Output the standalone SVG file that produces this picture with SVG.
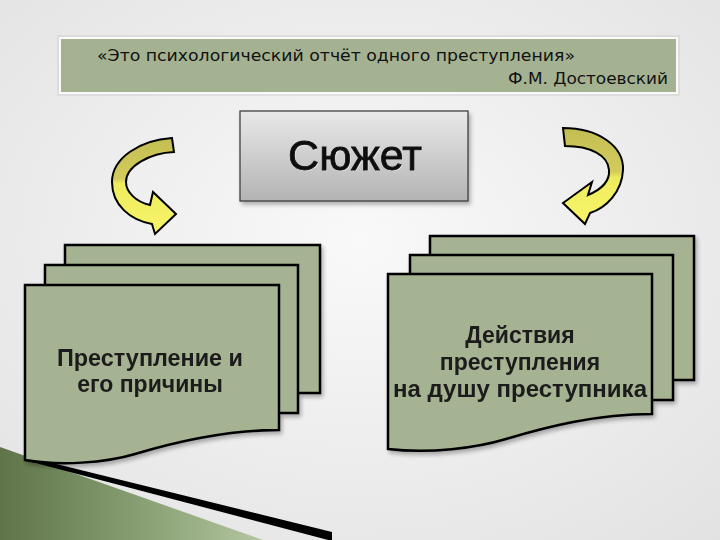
<svg xmlns="http://www.w3.org/2000/svg" width="720" height="540" viewBox="0 0 720 540">
  <defs>
    <radialGradient id="bg" cx="0.5" cy="0.45" r="0.75">
      <stop offset="0" stop-color="#f9f9f9"/>
      <stop offset="1" stop-color="#e2e2e2"/>
    </radialGradient>
    <linearGradient id="plot" x1="0" y1="0" x2="0" y2="1">
      <stop offset="0" stop-color="#e9e9e9"/>
      <stop offset="1" stop-color="#b3b3b3"/>
    </linearGradient>
    <linearGradient id="arrL" gradientUnits="userSpaceOnUse" x1="0" y1="138" x2="0" y2="234">
      <stop offset="0" stop-color="#c4bd52"/>
      <stop offset="0.42" stop-color="#d2cb5c"/>
      <stop offset="0.48" stop-color="#eeec5e"/>
      <stop offset="1" stop-color="#f7f46a"/>
    </linearGradient>
    <linearGradient id="arrR" gradientUnits="userSpaceOnUse" x1="0" y1="128" x2="0" y2="224">
      <stop offset="0" stop-color="#c4bd52"/>
      <stop offset="0.45" stop-color="#d2cb5c"/>
      <stop offset="0.52" stop-color="#eeec5e"/>
      <stop offset="1" stop-color="#f7f46a"/>
    </linearGradient>
    <linearGradient id="wedge" x1="0" y1="0" x2="1" y2="0">
      <stop offset="0" stop-color="#5f7449"/>
      <stop offset="0.6" stop-color="#8da478"/>
      <stop offset="1" stop-color="#b4c6a2"/>
    </linearGradient>
    <filter id="sh" x="-10%" y="-10%" width="130%" height="130%">
      <feGaussianBlur in="SourceAlpha" stdDeviation="2"/>
      <feOffset dx="2" dy="3"/>
      <feComponentTransfer><feFuncA type="linear" slope="0.3"/></feComponentTransfer>
      <feMerge><feMergeNode/><feMergeNode in="SourceGraphic"/></feMerge>
    </filter>
  </defs>
  <style>
    .doc { fill: #a5b392; stroke: #000; stroke-width: 2.5; stroke-linejoin: miter; }
    .arrow { stroke: #000; stroke-width: 2; stroke-linejoin: miter; }
    .dtxt { font-family: "Liberation Sans", Arial, sans-serif; font-weight: bold; font-size: 23px; fill: #1a1a1a; text-anchor: middle; }
    .qtxt { font-family: "DejaVu Sans Condensed", "DejaVu Sans", sans-serif; font-stretch: condensed; font-size: 16px; fill: #111; }
  </style>

  <rect x="0" y="0" width="720" height="540" fill="url(#bg)"/>

  <!-- bottom-left decoration -->
  <polygon points="0,447 263,540 0,540" fill="url(#wedge)"/>
  <polygon points="28,457 332,532 332,541 28,461" fill="#000"/>

  <g id="quote">
    <rect x="58" y="36" width="621" height="59" fill="none" stroke="#d0d0d0" stroke-width="1"/>
    <rect x="60" y="38" width="617" height="55" fill="#a4b291" stroke="#fafafa" stroke-width="2"/>
    <text class="qtxt" x="97" y="61" textLength="478" lengthAdjust="spacingAndGlyphs">«Это психологический отчёт одного преступления»</text>
    <text class="qtxt" x="508" y="84" font-size="17" textLength="160" lengthAdjust="spacingAndGlyphs">Ф.М. Достоевский</text>
  </g>

  <g id="plot-node" filter="url(#sh)">
    <rect x="240" y="111" width="228" height="90" fill="url(#plot)" stroke="#333" stroke-width="1.2"/>
    <text x="356" y="171" text-anchor="middle" font-family="Liberation Sans, Arial, sans-serif" font-size="43" fill="#fff" opacity="0.6">Сюжет</text>
    <text x="355" y="170" text-anchor="middle" font-family="Liberation Sans, Arial, sans-serif" font-size="43" fill="#111" stroke="#111" stroke-width="0.8">Сюжет</text>
  </g>

  <g id="connectors">
    <path class="arrow" fill="url(#arrL)" d="M172,138 C140,140 112,158 112,182 C112,205 130,220 152,224 L155,234 L176,214 L153,192 L150,205 C136,202 126,192 126,182 C126,166 150,153 174,152 Z"/>
    <path class="arrow" fill="url(#arrR)" d="M563,128 C598,128 624,146 623,170 C622,192 606,208 590,213 L585,224 L563,203 L592,182 L588,195 C600,190 610,182 609,170 C608,155 590,146 565,146 Z"/>
  </g>

  <g id="doc-left" filter="url(#sh)">
    <path class="doc" d="M65,245 H320 V393 H65 Z"/>
    <path class="doc" d="M45,265 H298 V413 H45 Z"/>
    <path class="doc" d="M25,285 H279 V430 C225,430 175,442 135,454 C105,463 60,466 25,460 Z"/>
    <text class="dtxt" x="150" y="366" textLength="186" lengthAdjust="spacingAndGlyphs">Преступление и</text>
    <text class="dtxt" x="150" y="392">его причины</text>
  </g>

  <g id="doc-right" filter="url(#sh)">
    <path class="doc" d="M430,236 H694 V380 H430 Z"/>
    <path class="doc" d="M410,255 H673 V400 H410 Z"/>
    <path class="doc" d="M388,274 H652 V414 C596,414 546,427 506,439 C476,448 430,454 388,449 Z"/>
    <text class="dtxt" x="520" y="343">Действия</text>
    <text class="dtxt" x="520" y="370">преступления</text>
    <text class="dtxt" x="520" y="397" textLength="254" lengthAdjust="spacingAndGlyphs">на душу преступника</text>
  </g>
</svg>
